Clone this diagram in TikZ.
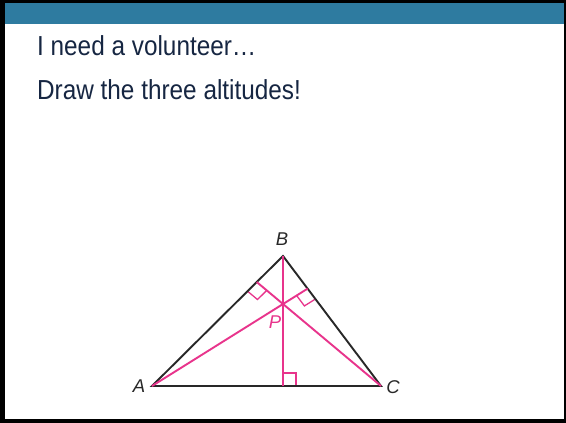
\documentclass[tikz,border=0pt]{standalone}
\usepackage{fontspec}
\setmainfont{Liberation Sans}
\usetikzlibrary{calc}
\definecolor{barblue}{RGB}{46,123,160}
\definecolor{navy}{RGB}{22,38,66}
\definecolor{alt}{RGB}{232,52,140}
\definecolor{tri}{RGB}{40,40,40}
\begin{document}
\begin{tikzpicture}[x=1pt,y=-1pt,
  side/.style={draw=tri,line width=1.9pt},
  altline/.style={draw=alt,line width=1.9pt},
  ramark/.style={draw=alt,line width=1.3pt},
  vlabel/.style={font=\fontsize{18.5}{18.5}\selectfont\itshape,text=tri,inner sep=0pt},
  plabel/.style={font=\fontsize{18.5}{18.5}\selectfont\itshape,text=alt,inner sep=0pt},
  title/.style={font=\fontsize{27.5}{30}\selectfont,text=navy,anchor=base west,inner sep=0pt,xscale=0.885}]
\useasboundingbox (0,0) rectangle (566,423);
\fill[black] (0,0) rectangle (566,423);
\fill[white] (5,3) rectangle (564,419);
\fill[barblue] (5,3) rectangle (564,24);
\node[title] (t1) at (37,56) {I need a volunteer…};
\node[title] (t2) at (37,99) {Draw the three altitudes!};
% triangle
\coordinate (A) at (152,386);
\coordinate (B) at (283,256);
\coordinate (C) at (381,386);
\coordinate (P) at (283,304);
\coordinate (Fb) at (283,386);
\coordinate (Fa) at (intersection of A--P and B--C);
\coordinate (Fc) at (intersection of C--P and A--B);
% right angle marks
\draw[ramark] ($(Fb)+(0,-13)$) -- ++(13,0) -- ++(0,13);
\path (Fa) -- ($(Fa)!13pt!(C)$) coordinate (Fa1);
\path (Fa) -- ($(Fa)!13pt!(A)$) coordinate (Fa2);
\draw[ramark] (Fa1) -- ($(Fa1)+(Fa2)-(Fa)$) -- (Fa2);
\path (Fc) -- ($(Fc)!13pt!(A)$) coordinate (Fc1);
\path (Fc) -- ($(Fc)!13pt!(C)$) coordinate (Fc2);
\draw[ramark] (Fc1) -- ($(Fc1)+(Fc2)-(Fc)$) -- (Fc2);
\draw[side] (A) -- (B) -- (C) -- cycle;
\draw[altline] (B) -- (Fb);
\draw[altline] (A) -- (Fa);
\draw[altline] (C) -- (Fc);
\node[vlabel] (lA) at (139,386) {A};
\node[vlabel] (lB) at (282,239) {B};
\node[vlabel] (lC) at (393,387.5) {C};
\node[plabel] (lP) at (275,322) {P};
\end{tikzpicture}
\end{document}
